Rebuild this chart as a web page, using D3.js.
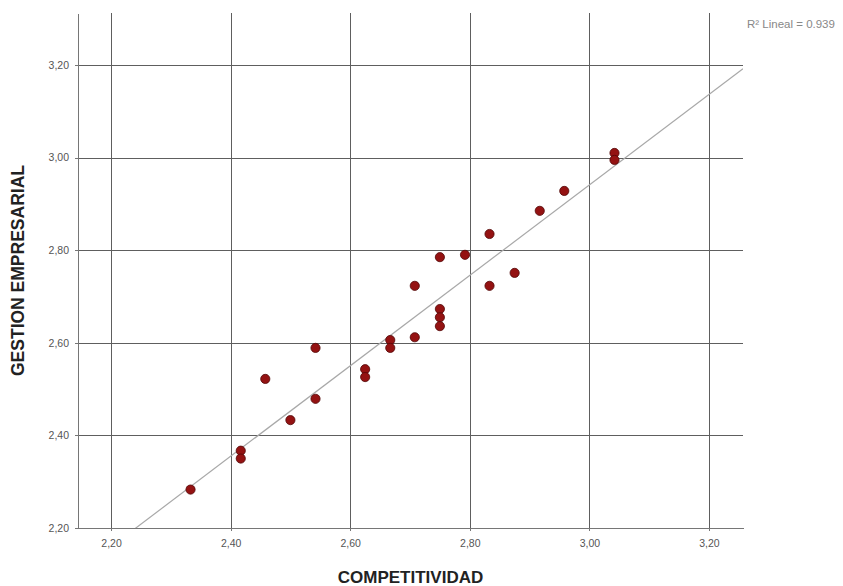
<!DOCTYPE html>
<html>
<head>
<meta charset="utf-8">
<script src="https://cdn.jsdelivr.net/npm/d3@7"></script>
<style>
    body { margin: 0; background: #fff; }
    .axis path, .axis line { stroke: #767676; shape-rendering: crispEdges; }
    .axis text { font-family: "Liberation Sans", Arial, sans-serif; font-size: 10.5px; fill: #555; }
    .grid line { stroke: #5e5e5e; shape-rendering: crispEdges; }
</style>
</head>
<body>
<script>
// COMPETITIVIDAD (x) vs GESTION EMPRESARIAL (y)
var competitividad = [2.333, 2.417, 2.417, 2.458, 2.500, 2.542, 2.542, 2.625, 2.625,
    2.667, 2.667, 2.708, 2.708, 2.750, 2.750, 2.750, 2.750, 2.792, 2.833, 2.833,
    2.875, 2.917, 2.958, 3.042, 3.042];
var gestion = [2.283, 2.367, 2.350, 2.522, 2.433, 2.589, 2.479, 2.543, 2.526,
    2.606, 2.589, 2.723, 2.612, 2.785, 2.673, 2.655, 2.636, 2.790, 2.835, 2.723,
    2.751, 2.885, 2.928, 3.010, 2.995];

var xTicks = [2.2, 2.4, 2.6, 2.8, 3.0, 3.2];
var yTicks = [2.2, 2.4, 2.6, 2.8, 3.0, 3.2];

// recta ajustada tal como aparece en el grafico (SPSS)
var pendiente = 0.977;
var intercepto = 0.010;
var r2Label = "R\u00b2 Lineal = 0.939";

var width = 843, height = 586;
var plot = {left: 78, right: 743, top: 13, bottom: 528};

var fmt = function(d) { return d3.format(".2f")(d).replace(".", ","); };

var x = d3.scaleLinear()
    .domain([2.1448, 3.2569])
    .range([plot.left, plot.right]);

var y = d3.scaleLinear()
    .domain([2.2, 3.3123])
    .range([plot.bottom, plot.top]);

var svg = d3.select("body").append("svg")
    .attr("width", width)
    .attr("height", height);

// rejilla
var grid = svg.append("g").attr("class", "grid");
grid.selectAll("line.v")
    .data(xTicks)
    .enter().append("line")
    .attr("class", "v")
    .attr("x1", function(d) { return Math.round(x(d)) + 0.5; })
    .attr("x2", function(d) { return Math.round(x(d)) + 0.5; })
    .attr("y1", plot.top)
    .attr("y2", plot.bottom);
grid.selectAll("line.h")
    .data(yTicks)
    .enter().append("line")
    .attr("class", "h")
    .attr("y1", function(d) { return Math.round(y(d)) + 0.5; })
    .attr("y2", function(d) { return Math.round(y(d)) + 0.5; })
    .attr("x1", plot.left)
    .attr("x2", plot.right);

var xAxis = d3.axisBottom(x).tickValues(xTicks).tickFormat(fmt).tickSizeInner(3).tickSizeOuter(0).tickPadding(9);
var yAxis = d3.axisLeft(y).tickValues(yTicks).tickFormat(fmt).tickSizeInner(3).tickSizeOuter(0).tickPadding(6);

svg.append("g")
    .attr("class", "x axis")
    .attr("transform", "translate(0," + plot.bottom + ")")
    .call(xAxis);

svg.append("g")
    .attr("class", "y axis")
    .attr("transform", "translate(" + plot.left + ",0)")
    .call(yAxis);

svg.append("clipPath")
    .attr("id", "clip")
    .append("rect")
    .attr("x", plot.left)
    .attr("y", plot.top)
    .attr("width", plot.right - plot.left)
    .attr("height", plot.bottom - plot.top);

var xs = x.domain();
svg.append("line")
    .attr("clip-path", "url(#clip)")
    .attr("x1", x(xs[0]))
    .attr("y1", y(intercepto + pendiente * xs[0]))
    .attr("x2", x(xs[1]))
    .attr("y2", y(intercepto + pendiente * xs[1]))
    .attr("stroke", "#a8a8a8")
    .attr("stroke-width", 1.2);

svg.append("g")
    .selectAll("circle")
    .data(competitividad)
    .enter().append("circle")
    .attr("cx", function(d) { return x(d); })
    .attr("cy", function(d, i) { return y(gestion[i]); })
    .attr("r", 4.6)
    .attr("fill", "#941212")
    .attr("stroke", "#520808")
    .attr("stroke-width", 0.8);

svg.append("text")
    .attr("x", 747)
    .attr("y", 28)
    .style("font-family", "Liberation Sans, Arial, sans-serif")
    .style("font-size", "11.5px")
    .style("fill", "#888")
    .text(r2Label);

svg.append("text")
    .attr("x", (plot.left + plot.right) / 2)
    .attr("y", 583)
    .attr("text-anchor", "middle")
    .style("font-family", "Liberation Sans, Arial, sans-serif")
    .style("font-size", "17px")
    .style("font-weight", "bold")
    .style("fill", "#222")
    .text("COMPETITIVIDAD");

svg.append("text")
    .attr("transform", "translate(24," + ((plot.top + plot.bottom) / 2) + ") rotate(-90)")
    .attr("text-anchor", "middle")
    .style("font-family", "Liberation Sans, Arial, sans-serif")
    .style("font-size", "17.5px")
    .style("font-weight", "bold")
    .style("fill", "#222")
    .text("GESTION EMPRESARIAL");
</script>
</body>
</html>
